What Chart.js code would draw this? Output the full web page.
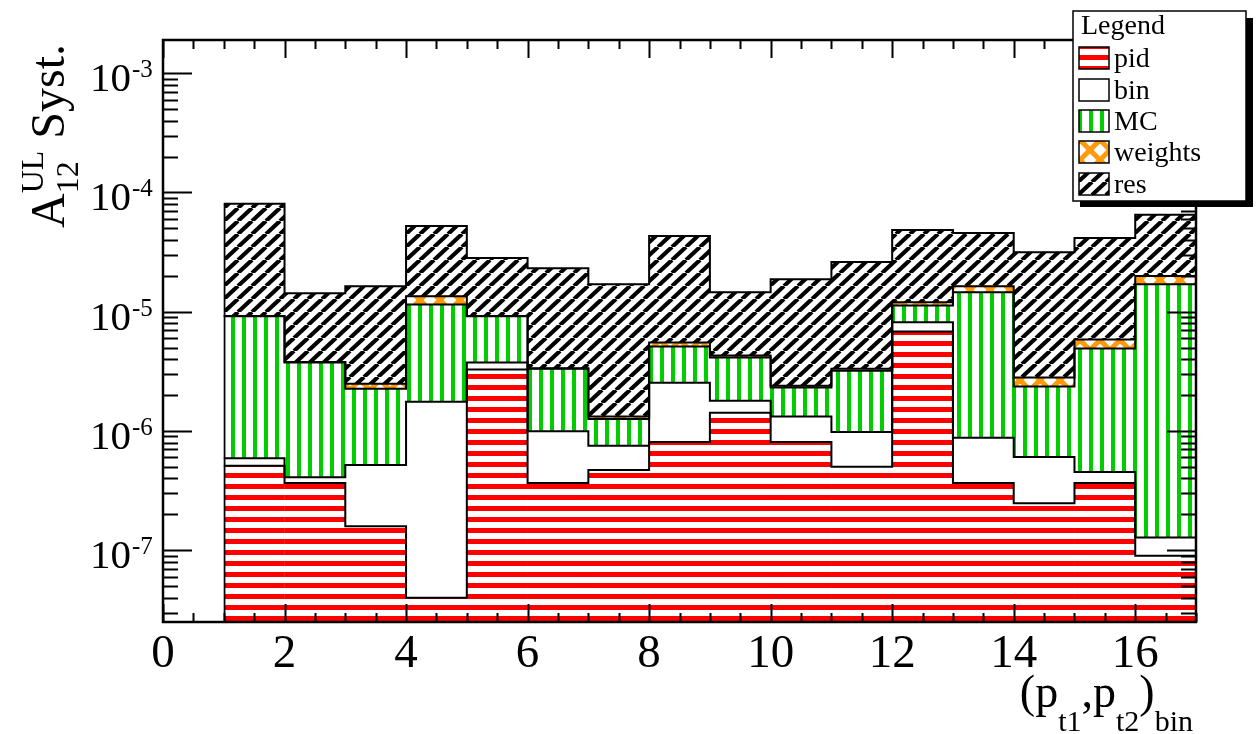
<!DOCTYPE html>
<html>
<head>
<meta charset="utf-8">
<script src="https://cdn.jsdelivr.net/npm/chart.js@4.4.1/dist/chart.umd.min.js"></script>
<style>
  html, body { margin: 0; padding: 0; background: #fff; }
  #wrap { width: 1260px; height: 734px; }
</style>
</head>
<body>
<div id="wrap"><canvas id="chart" width="1260" height="734"></canvas></div>
<script>
// bin edges of the (pt1,pt2) bins
const binEdges = [1, 2, 3, 4, 5, 6, 7, 8, 9, 10, 11, 12, 13, 14, 15, 16, 17];

// systematic contributions per bin (stacked in this order)
const pid     = [5.1e-7, 3.66e-7, 1.59e-7, 4.0e-8, 3.27e-6, 3.66e-7, 4.7e-7, 8.1e-7, 1.42e-6, 8.1e-7, 5.0e-7, 6.84e-6, 3.66e-7, 2.48e-7, 3.66e-7, 9.0e-8];
const binSys  = [8e-8, 4.4e-8, 3.6e-7, 1.72e-6, 4.8e-7, 6.3e-7, 2.8e-7, 1.73e-6, 3.7e-7, 5.1e-7, 4.8e-7, 1.31e-6, 5.1e-7, 3.57e-7, 8.6e-8, 3.8e-8];
const mc      = [8.56e-6, 3.34e-6, 1.74e-6, 9.74e-6, 5.4e-6, 2.33e-6, 5.1e-7, 2.58e-6, 2.34e-6, 9.9e-7, 2.22e-6, 3.15e-6, 1.37e-5, 1.75e-6, 4.47e-6, 1.69e-5];
const weights = [5e-8, 3e-8, 2.3e-7, 2.0e-6, 5e-8, 3e-8, 6e-8, 4e-7, 1.6e-7, 9e-8, 1.3e-7, 7e-7, 1.8e-6, 4.5e-7, 9.3e-7, 2.9e-6];
const resSys  = [7.11e-5, 1.05e-5, 1.39e-5, 3.89e-5, 1.9e-5, 1.98e-5, 1.57e-5, 3.77e-5, 1.03e-5, 1.63e-5, 2.28e-5, 3.65e-5, 2.93e-5, 2.88e-5, 3.57e-5, 4.5e-5];

const seriesNames = ['pid', 'bin', 'MC', 'weights', 'res'];
const seriesValues = [pid, binSys, mc, weights, resSys];

const yMin = 2.5e-8, yMax = 1.9e-3;
const xMin = 0, xMax = 17;
const yDecades = [1e-7, 1e-6, 1e-5, 1e-4, 1e-3];
const yDecadeLabels = ['-7', '-6', '-5', '-4', '-3'];

const SERIF = '"Liberation Serif", "Times New Roman", serif';

const canvas = document.getElementById('chart');
const ctx0 = canvas.getContext('2d');

function makePattern(w, h, draw) {
  const c = document.createElement('canvas');
  c.width = w; c.height = h;
  const g = c.getContext('2d');
  g.fillStyle = '#fff';
  g.fillRect(0, 0, w, h);
  draw(g, w, h);
  return ctx0.createPattern(c, 'repeat');
}

const pidFill = makePattern(8, 11, (g, w) => { g.fillStyle = '#ff0000'; g.fillRect(0, 0, w, 5); });
const binFill = '#ffffff';
const mcFill = makePattern(11, 8, (g, w, h) => { g.fillStyle = '#00cc00'; g.fillRect(0, 0, 4, h); });
const wFill = makePattern(20, 20, (g) => {
  g.strokeStyle = '#ff9a0a'; g.lineWidth = 5;
  for (const dx of [-20, 0, 20]) {
    g.beginPath(); g.moveTo(dx, 0); g.lineTo(dx + 20, 20); g.stroke();
    g.beginPath(); g.moveTo(dx + 20, 0); g.lineTo(dx, 20); g.stroke();
  }
});
const resFill = makePattern(14, 13, (g, w, h) => {
  g.strokeStyle = '#000'; g.lineWidth = 4.2;
  for (const d of [-1, 0, 1]) {
    g.beginPath(); g.moveTo(d * w, h); g.lineTo(d * w + w, 0); g.stroke();
  }
});
const fills = [pidFill, binFill, mcFill, wFill, resFill];

// cumulative tops of the stack
const cumulative = [];
seriesValues.forEach((vals, k) => {
  cumulative.push(vals.map((v, i) => (k > 0 ? cumulative[k - 1][i] : 0) + v));
});

const datasets = [];
seriesValues.forEach((vals, k) => {
  datasets.push({
    type: 'bar',
    label: seriesNames[k],
    order: 1,
    data: vals.map((v, i) => ({
      x: binEdges[i] + 0.5,
      y: [k > 0 ? cumulative[k - 1][i] : yMin, cumulative[k][i]]
    })),
    backgroundColor: fills[k],
    borderColor: '#000',
    borderWidth: (c) => c.dataIndex === 0 ? {left: 2, top: 0, right: 0, bottom: 0} : 0,
    borderSkipped: false,
    grouped: false,
    barPercentage: 1,
    categoryPercentage: 1
  });
});
// step outlines of each stacked level
cumulative.forEach((tops, k) => {
  const pts = tops.map((t, i) => ({x: binEdges[i], y: t}));
  pts.push({x: binEdges[binEdges.length - 1], y: tops[tops.length - 1]});
  datasets.push({
    type: 'line',
    label: seriesNames[k] + ' outline',
    order: 0,
    data: pts,
    stepped: true,
    borderColor: '#000',
    borderWidth: 2,
    pointRadius: 0,
    fill: false
  });
});

function drawRich(ctx, parts, x, y, measureOnly) {
  let cx = x;
  for (const p of parts) {
    if (p.sup !== undefined) {
      ctx.font = p.size + 'px ' + SERIF;
      const w1 = ctx.measureText(p.sup).width, w2 = ctx.measureText(p.sub).width;
      if (!measureOnly) {
        ctx.fillText(p.sup, cx, y + p.supDy);
        ctx.fillText(p.sub, cx, y + p.subDy);
      }
      cx += Math.max(w1, w2);
    } else {
      ctx.font = p.size + 'px ' + SERIF;
      if (!measureOnly) ctx.fillText(p.t, cx, y + (p.dy || 0));
      cx += ctx.measureText(p.t).width;
    }
  }
  return cx - x;
}

const frameAndText = {
  id: 'frameAndText',
  afterDatasetsDraw(chart) {
    const {ctx, chartArea} = chart;
    const {left, right, top, bottom} = chartArea;
    const xs = chart.scales.x, ys = chart.scales.y;
    ctx.save();
    ctx.strokeStyle = '#000';
    ctx.lineWidth = 2;
    ctx.beginPath();
    // y ticks, both sides, pointing inwards
    for (let e = -8; e <= -3; e++) {
      for (let m = 1; m <= 9; m++) {
        const v = m * Math.pow(10, e);
        if (v < ys.min || v > ys.max) continue;
        const py = Math.round(ys.getPixelForValue(v)) + 0.5;
        const len = m === 1 ? 29 : 15;
        ctx.moveTo(left, py); ctx.lineTo(left + len, py);
        ctx.moveTo(right, py); ctx.lineTo(right - len, py);
      }
    }
    // x ticks, bottom and top
    for (let v = xMin; v <= xMax; v += 0.5) {
      const px = Math.round(xs.getPixelForValue(v)) + 0.5;
      const len = v % 2 === 0 ? 18 : 9;
      ctx.moveTo(px, bottom); ctx.lineTo(px, bottom - len);
      ctx.moveTo(px, top); ctx.lineTo(px, top + len);
    }
    ctx.stroke();
    ctx.lineWidth = 2.5;
    ctx.strokeRect(left, top, right - left, bottom - top);

    // y tick labels 10^n
    ctx.fillStyle = '#000';
    ctx.textBaseline = 'alphabetic';
    ctx.textAlign = 'left';
    yDecades.forEach((v, i) => {
      const py = ys.getPixelForValue(v);
      ctx.font = '41px ' + SERIF;
      ctx.fillText('10', 90, py + 18);
      const w = ctx.measureText('10').width;
      ctx.font = '25px ' + SERIF;
      ctx.fillText(yDecadeLabels[i], 90 + w + 1, py + 4);
    });

    // x axis title
    const xt = [
      {t: '(', size: 46}, {t: 'p', size: 46}, {t: 't1', size: 30, dy: 24},
      {t: ',', size: 46}, {t: 'p', size: 46}, {t: 't2', size: 30, dy: 24},
      {t: ')', size: 46}, {t: 'bin', size: 30, dy: 24}
    ];
    const wx = drawRich(ctx, xt, 0, 0, true);
    drawRich(ctx, xt, 1193 - wx, 707);

    // y axis title
    ctx.translate(64, 228);
    ctx.rotate(-Math.PI / 2);
    drawRich(ctx, [
      {t: 'A', size: 48},
      {sup: 'UL', sub: '12', size: 32, supDy: -21, subDy: 14},
      {t: ' Syst.', size: 48}
    ], 0, 0);
    ctx.restore();
  },
  afterDraw(chart) {
    const ctx = chart.ctx;
    ctx.save();
    // shadow + box
    ctx.fillStyle = '#000';
    ctx.fillRect(1080, 18, 173, 189);
    ctx.fillStyle = '#fff';
    ctx.fillRect(1073, 11, 173, 190);
    ctx.strokeStyle = '#000';
    ctx.lineWidth = 1.5;
    ctx.strokeRect(1073, 11, 173, 190);
    ctx.fillStyle = '#000';
    ctx.textAlign = 'left';
    ctx.textBaseline = 'alphabetic';
    ctx.font = '28px ' + SERIF;
    ctx.fillText('Legend', 1081, 34);
    const rowY = [58, 90, 121, 152, 184];
    seriesNames.forEach((name, k) => {
      const cy = rowY[k];
      ctx.fillStyle = fills[k];
      ctx.fillRect(1079, cy - 11, 30, 22);
      ctx.lineWidth = 1.5;
      ctx.strokeStyle = '#000';
      ctx.strokeRect(1079, cy - 11, 30, 22);
      ctx.fillStyle = '#000';
      ctx.font = '28px ' + SERIF;
      ctx.fillText(name, 1114, cy + 9);
    });
    ctx.restore();
  }
};

new Chart(canvas, {
  type: 'bar',
  data: {datasets: datasets},
  options: {
    responsive: false,
    devicePixelRatio: 1,
    animation: false,
    layout: {padding: {left: 0, top: 40, right: 64, bottom: 0}},
    plugins: {legend: {display: false}, tooltip: {enabled: false}},
    scales: {
      x: {
        type: 'linear',
        min: xMin, max: xMax,
        offset: false,
        grid: {display: false, drawTicks: false},
        border: {display: false},
        ticks: {
          stepSize: 2,
          includeBounds: false,
          padding: 4,
          color: '#000',
          font: {family: SERIF, size: 47},
          maxRotation: 0
        },
        afterFit(scale) { scale.height = 112; }
      },
      y: {
        type: 'logarithmic',
        min: yMin, max: yMax,
        grid: {display: false},
        border: {display: false},
        ticks: {display: false},
        afterFit(scale) { scale.width = 163; }
      }
    }
  },
  plugins: [frameAndText]
});
</script>
</body>
</html>
